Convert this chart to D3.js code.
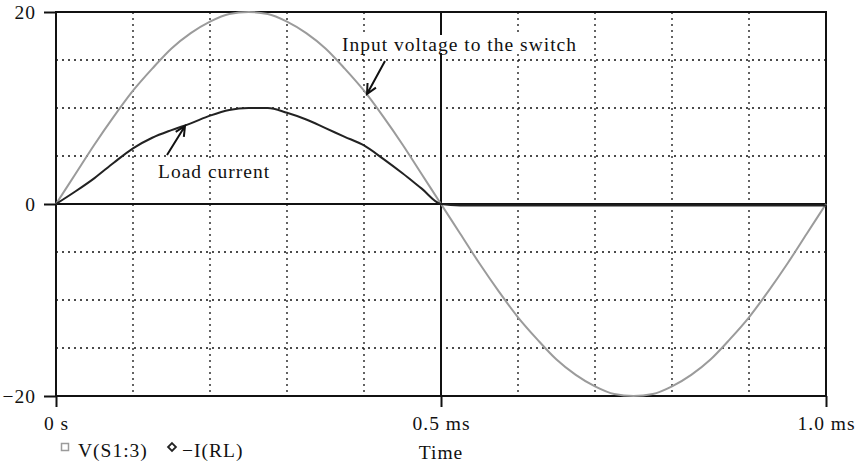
<!DOCTYPE html>
<html>
<head>
<meta charset="utf-8">
<script src="https://cdn.jsdelivr.net/npm/d3@7"></script>
<style>
  html, body { margin: 0; padding: 0; background: #fff; }
  svg { display: block; }
  text { font-family: "Liberation Serif", "DejaVu Serif", serif; fill: #111; letter-spacing: 1px; }
</style>
</head>
<body>
<svg id="chart" width="863" height="464"></svg>
<script>
// Sample times (ms)
const timeMs = [0, 0.025, 0.05, 0.075, 0.1, 0.125, 0.15, 0.175, 0.2, 0.225,
  0.25, 0.275, 0.3, 0.325, 0.35, 0.375, 0.4, 0.425, 0.45, 0.475,
  0.5, 0.525, 0.55, 0.575, 0.6, 0.625, 0.65, 0.675, 0.7, 0.725,
  0.75, 0.775, 0.8, 0.825, 0.85, 0.875, 0.9, 0.925, 0.95, 0.975, 1.0];

// V(S1:3): input voltage to the switch
const switchVoltage = [0, 3.1, 6.2, 9.1, 11.8, 14.1, 16.2, 17.8, 19.0, 19.8,
  20.0, 19.8, 19.0, 17.8, 16.2, 14.1, 11.8, 9.1, 6.2, 3.1,
  0, -3.1, -6.2, -9.1, -11.8, -14.1, -16.2, -17.8, -19.0, -19.8,
  -20.0, -19.8, -19.0, -17.8, -16.2, -14.1, -11.8, -9.1, -6.2, -3.1, 0];

// -I(RL): load current
const loadCurrent = [0, 1.3, 2.7, 4.3, 5.8, 6.9, 7.7, 8.4, 9.2, 9.8,
  10.0, 10.0, 9.5, 8.8, 7.9, 7.0, 6.1, 4.7, 3.2, 1.6,
  0, -0.15, -0.15, -0.15, -0.15, -0.15, -0.15, -0.15, -0.15, -0.15,
  -0.15, -0.15, -0.15, -0.15, -0.15, -0.15, -0.15, -0.15, -0.15, -0.15, -0.15];

const xTickValues = [0, 0.5, 1.0];
const xTickLabels = ["0 s", "0.5 ms", "1.0 ms"];
const xGridValues = [0.1, 0.2, 0.3, 0.4, 0.6, 0.7, 0.8, 0.9];
const yTickValues = [-20, 0, 20];
const yTickLabels = ["\u221220", "0", "20"];
const yGridValues = [-15, -10, -5, 5, 10, 15];

const seriesNames = ["V(S1:3)", "\u2212I(RL)"];

const FONT = 19.5;
const svg = d3.select("#chart");
const plotL = 56, plotR = 826, plotT = 12, plotB = 396;

const x = d3.scaleLinear().domain([0, 1.0]).range([plotL, plotR]);
const y = d3.scaleLinear().domain([-20, 20]).range([plotB, plotT]);

// dotted grid
const grid = svg.append("g").attr("stroke", "#111").attr("stroke-width", 1.3)
  .attr("stroke-dasharray", "2,4");
grid.selectAll(".vg").data(xGridValues).join("line")
  .attr("x1", d => x(d)).attr("x2", d => x(d)).attr("y1", plotT).attr("y2", plotB);
grid.selectAll(".hg").data(yGridValues).join("line")
  .attr("y1", d => y(d)).attr("y2", d => y(d)).attr("x1", plotL).attr("x2", plotR);

// solid reference lines at 0 and 0.5 ms
svg.append("line").attr("x1", plotL).attr("x2", plotR).attr("y1", y(0)).attr("y2", y(0))
  .attr("stroke", "#111").attr("stroke-width", 2);
svg.append("line").attr("x1", x(0.5)).attr("x2", x(0.5)).attr("y1", plotT).attr("y2", plotB)
  .attr("stroke", "#111").attr("stroke-width", 2);

// axes with outward ticks
const xAxis = d3.axisBottom(x).tickValues(xTickValues)
  .tickFormat((d, i) => xTickLabels[i]).tickSize(11).tickPadding(10);
const gx = svg.append("g").attr("transform", `translate(0,${plotB})`).call(xAxis);
const yAxis = d3.axisLeft(y).tickValues(yTickValues)
  .tickFormat((d, i) => yTickLabels[i]).tickSize(12).tickPadding(8);
const gy = svg.append("g").attr("transform", `translate(${plotL},0)`).call(yAxis);
[gx, gy].forEach(g => {
  g.select(".domain").remove();
  g.selectAll(".tick line").attr("stroke", "#111").attr("stroke-width", 2);
  g.selectAll(".tick text").attr("font-size", FONT).attr("fill", "#111")
    .style("font-family", '"Liberation Serif", serif');
});
gx.selectAll(".tick text").attr("dy", "0.68em");

// frame
svg.append("rect").attr("x", plotL).attr("y", plotT).attr("width", plotR - plotL)
  .attr("height", plotB - plotT).attr("fill", "none").attr("stroke", "#111").attr("stroke-width", 2);

const line = d3.line().curve(d3.curveMonotoneX).x((d, i) => x(timeMs[i])).y(d => y(d));

svg.append("path").datum(switchVoltage).attr("d", line)
  .attr("fill", "none").attr("stroke", "#9b9b9b").attr("stroke-width", 2);
svg.append("path").datum(loadCurrent).attr("d", line)
  .attr("fill", "none").attr("stroke", "#222").attr("stroke-width", 2);

// annotations
function label(txt, tx, ty) {
  const g = svg.append("g");
  const t = g.append("text").attr("x", tx).attr("y", ty).attr("font-size", FONT).text(txt);
  const b = t.node().getBBox();
  g.insert("rect", "text").attr("x", b.x - 2).attr("y", b.y + 1).attr("width", b.width + 4)
    .attr("height", b.height - 3).attr("fill", "#fff");
}
label("Input voltage to the switch", 342, 51);
label("Load current", 158, 178);

function arrow(x1, y1, x2, y2) {
  const a = Math.atan2(y2 - y1, x2 - x1), L = 11, s = 0.45;
  const p = d3.path();
  p.moveTo(x1, y1); p.lineTo(x2, y2);
  p.moveTo(x2 - L * Math.cos(a - s), y2 - L * Math.sin(a - s));
  p.lineTo(x2, y2);
  p.lineTo(x2 - L * Math.cos(a + s), y2 - L * Math.sin(a + s));
  svg.append("path").attr("d", p.toString()).attr("fill", "none")
    .attr("stroke", "#111").attr("stroke-width", 2);
}
arrow(385, 61, 367, 94);
arrow(167, 155, 185, 126);

// x-axis title
svg.append("text").attr("x", x(0.5)).attr("y", 459).attr("text-anchor", "middle")
  .attr("font-size", FONT).text("Time");

// legend
const lg = svg.append("g");
lg.append("rect").attr("x", 61.5).attr("y", 443.5).attr("width", 7).attr("height", 7)
  .attr("fill", "none").attr("stroke", "#9b9b9b").attr("stroke-width", 1.5);
lg.append("text").attr("x", 78).attr("y", 457).attr("font-size", FONT).text(seriesNames[0]);
lg.append("path").attr("d", d3.symbol(d3.symbolDiamond2, 40)())
  .attr("transform", "translate(172,447)").attr("fill", "none")
  .attr("stroke", "#222").attr("stroke-width", 1.8);
lg.append("text").attr("x", 182).attr("y", 457).attr("font-size", FONT).text(seriesNames[1]);
</script>
</body>
</html>
